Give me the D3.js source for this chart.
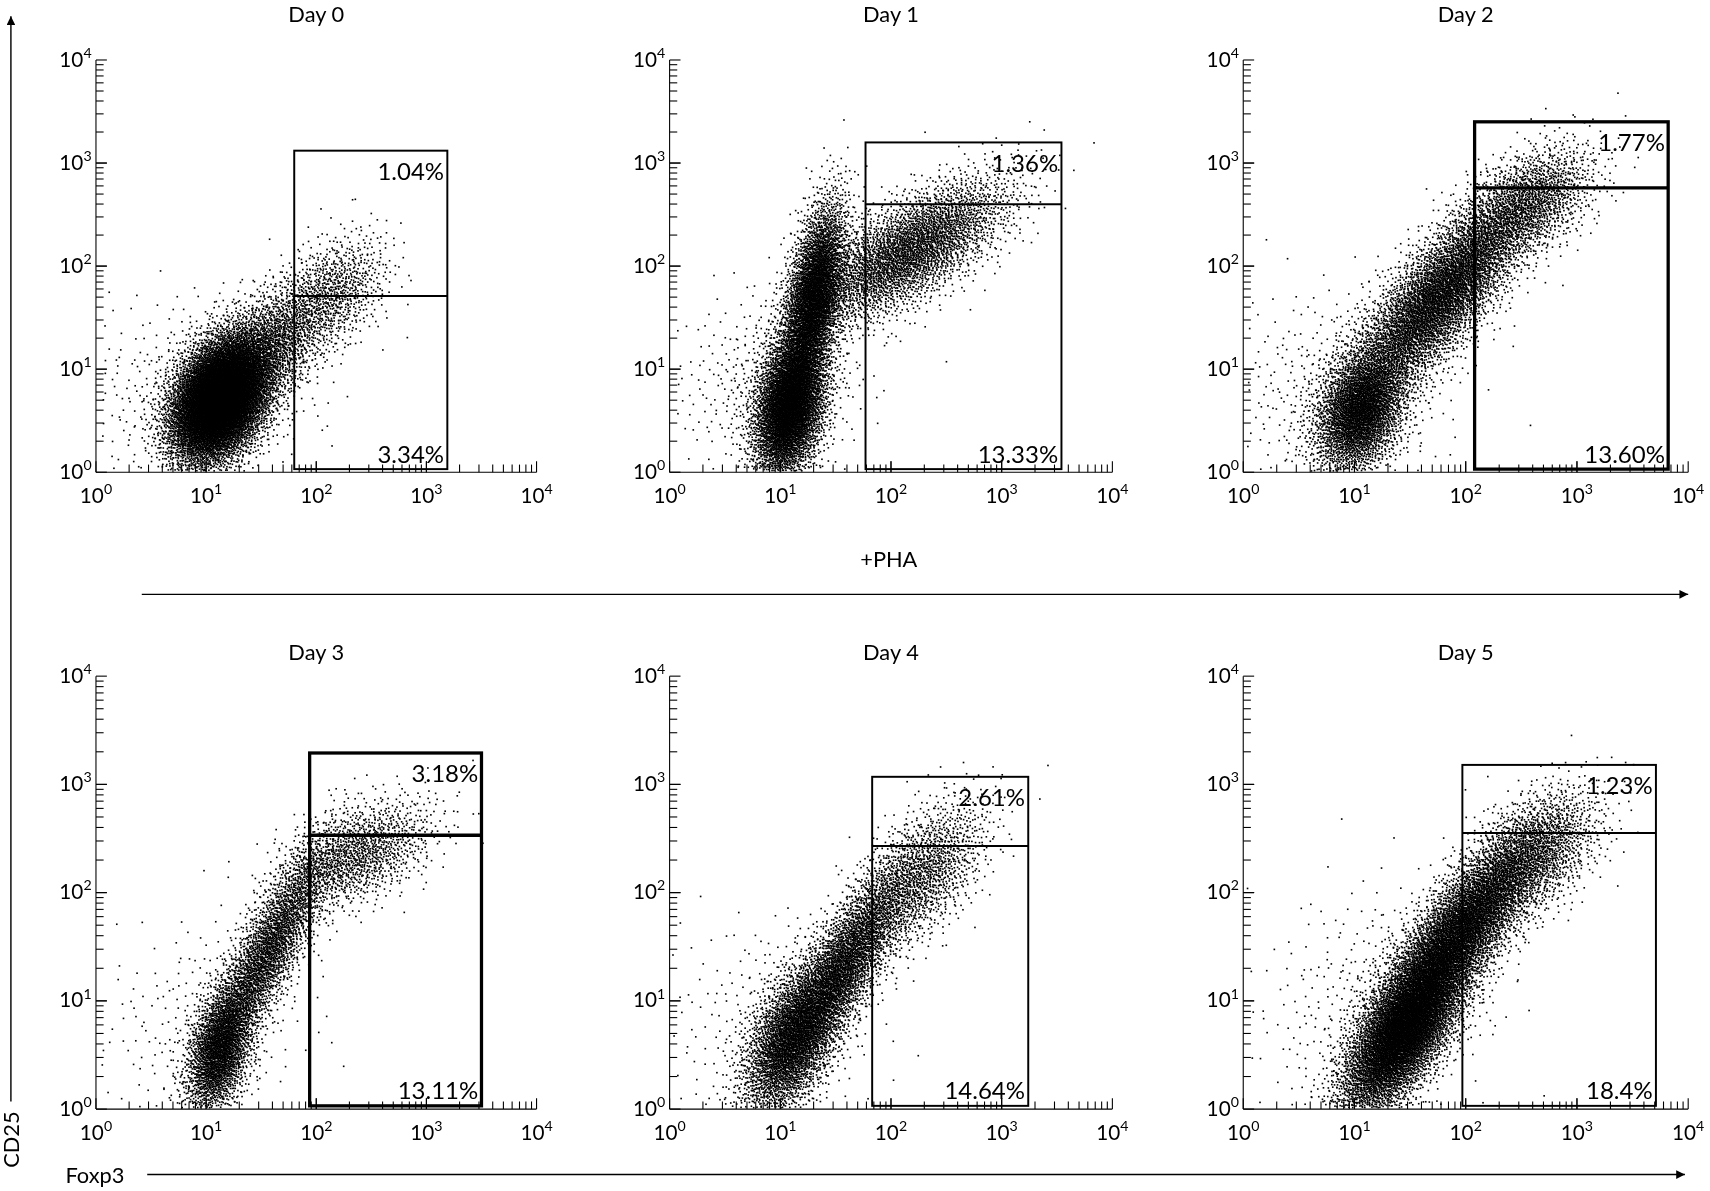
<!DOCTYPE html>
<html><head><meta charset="utf-8">
<script src="https://cdn.jsdelivr.net/npm/d3@7"></script>
<style>body{margin:0;background:#fff}#wrap{position:relative;width:1710px;height:1191px}canvas,svg{position:absolute;left:0;top:0}</style>
</head><body><div id="wrap"><canvas id="cv" width="1710" height="1191"></canvas><svg id="sv" width="1710" height="1191"></svg></div>
<script>
// ---- data (log10 units) ----
const titles = ["Day 0","Day 1","Day 2","Day 3","Day 4","Day 5"];
const tickExps = [0,1,2,3,4];
const upperPct = ["1.04%","1.36%","1.77%","3.18%","2.61%","1.23%"];
const lowerPct = ["3.34%","13.33%","13.60%","13.11%","14.64%","18.4%"];
// gate: [xLeft, xRight, yBottom, yMid, yTop]
const gates = [
 [1.80,3.19,0.03,1.71,3.12],
 [1.77,3.54,0.03,2.60,3.20],
 [2.08,3.82,0.03,2.76,3.40],
 [1.94,3.50,0.03,2.53,3.29],
 [1.83,3.24,0.03,2.43,3.07],
 [1.97,3.71,0.03,2.55,3.18]];
const gateThick = [false,false,true,true,false,false];
// population clusters: [meanX, meanY, sdX, sdY, corr, count]
const clusters = [
 [[1.12,0.72,0.22,0.30,0.35,11000],[1.55,1.20,0.30,0.35,0.6,2000],[2.15,1.75,0.25,0.28,0.4,800],[0.9,0.8,0.55,0.45,0.1,400]],
 [[1.08,0.65,0.16,0.35,0.3,5500],[1.30,1.70,0.14,0.45,0.5,4500],[2.15,2.15,0.45,0.35,0.7,3800],[0.9,0.9,0.45,0.45,0.2,400]],
 [[1.05,0.60,0.20,0.30,0.3,3500],[1.75,1.70,0.40,0.50,0.8,6000],[2.55,2.60,0.30,0.28,0.5,1600],[0.8,0.8,0.55,0.5,0.1,400]],
 [[1.12,0.55,0.15,0.30,0.4,2500],[1.55,1.45,0.28,0.50,0.85,3000],[2.35,2.35,0.35,0.25,0.5,1400],[1.0,0.8,0.5,0.5,0.2,250]],
 [[1.10,0.65,0.22,0.35,0.5,3600],[1.55,1.30,0.28,0.45,0.8,3600],[2.25,2.15,0.30,0.35,0.6,1600],[0.9,0.8,0.5,0.5,0.1,250]],
 [[1.45,0.75,0.28,0.40,0.7,8000],[1.95,1.65,0.35,0.45,0.8,6000],[2.60,2.35,0.30,0.30,0.5,1700],[1.2,1.0,0.55,0.55,0.2,400]]];

// ---- layout (designed on a 1568-wide grid, scaled to 1710) ----
const S = 1710/1568;
const panelX = [[88,492],[614,1020],[1140,1548]];
const panelY = [[433,55],[1017,620]];
const titleY = [20,605];
const cv = document.getElementById("cv").getContext("2d");
cv.scale(S,S);
const svg = d3.select("#sv").append("g").attr("transform",`scale(${S})`);
const font = "Lato, 'DejaVu Sans', sans-serif";

function halton(i,b){let f=1,r=0;while(i>0){f/=b;r+=f*(i%b);i=Math.floor(i/b);}return r;}
let seedIdx = 1;

titles.forEach((t,k)=>{
  const r = Math.floor(k/3), c = k%3;
  const x = d3.scaleLinear().domain([0,4]).range(panelX[c]);
  const y = d3.scaleLinear().domain([0,4]).range(panelY[r]);
  cv.fillStyle="#000";
  clusters[k].forEach(([mx,my,sx,sy,rho,n])=>{
    for(let i=0;i<n;i++){
      const j=seedIdx++;
      const u1=Math.max(1e-6,halton(j,2)), u2=halton(j,3);
      const rad=Math.sqrt(-2*Math.log(u1));
      const z1=rad*Math.cos(2*Math.PI*u2), z2=rad*Math.sin(2*Math.PI*u2);
      const vx=mx+sx*z1, vy=my+sy*(rho*z1+Math.sqrt(1-rho*rho)*z2);
      if(vx<0.02||vx>3.98||vy<0.02||vy>3.98) continue;
      cv.fillRect(x(vx),y(vy),1.5,1.5);
    }
  });
  const g = svg.append("g");
  const minors=[];
  for(let d=0;d<4;d++) for(let m=1;m<=10;m++) minors.push({v:d+Math.log10(m),major:m===1||m===10});
  const x0=panelX[c][0], y0=panelY[r][0];
  g.append("line").attr("x1",x0).attr("x2",panelX[c][1]).attr("y1",y0).attr("y2",y0).attr("stroke","#000");
  g.append("line").attr("x1",x0).attr("x2",x0).attr("y1",y0).attr("y2",panelY[r][1]).attr("stroke","#000");
  minors.forEach(m=>{
    const L=m.major?10:7;
    g.append("line").attr("x1",x(m.v)).attr("x2",x(m.v)).attr("y1",y0).attr("y2",y0-L).attr("stroke","#000");
    g.append("line").attr("y1",y(m.v)).attr("y2",y(m.v)).attr("x1",x0).attr("x2",x0+L).attr("stroke","#000");
  });
  tickExps.forEach(e=>{
    const tx=g.append("text").attr("x",x(e)).attr("y",y0+28).attr("text-anchor","middle").attr("font-family",font).attr("font-size",19);
    tx.append("tspan").text("10");tx.append("tspan").attr("font-size",13).attr("dy",-8).text(e);
    const ty=g.append("text").attr("x",x0-4).attr("y",y(e)+6).attr("text-anchor","end").attr("font-family",font).attr("font-size",19);
    ty.append("tspan").text("10");ty.append("tspan").attr("font-size",13).attr("dy",-8).text(e);
  });
  g.append("text").attr("x",(panelX[c][0]+panelX[c][1])/2).attr("y",titleY[r]).attr("text-anchor","middle").attr("font-family",font).attr("font-size",20).text(t);
  const [gl,gr,gb,gm,gt]=gates[k]; const sw=gateThick[k]?3:1.8;
  g.append("rect").attr("x",x(gl)).attr("y",y(gt)).attr("width",x(gr)-x(gl)).attr("height",y(gb)-y(gt)).attr("fill","none").attr("stroke","#000").attr("stroke-width",sw);
  g.append("line").attr("x1",x(gl)).attr("x2",x(gr)).attr("y1",y(gm)).attr("y2",y(gm)).attr("stroke","#000").attr("stroke-width",sw);
  g.append("text").attr("x",x(gr)-3).attr("y",y(gt)+27).attr("text-anchor","end").attr("font-family",font).attr("font-size",22).text(upperPct[k]);
  g.append("text").attr("x",x(gr)-3).attr("y",y(gb)-6).attr("text-anchor","end").attr("font-family",font).attr("font-size",22).text(lowerPct[k]);
});
const defs=d3.select("#sv").append("defs");
defs.append("marker").attr("id","ah").attr("viewBox","0 0 10 10").attr("refX",10).attr("refY",5).attr("markerWidth",10).attr("markerHeight",8).attr("orient","auto").attr("markerUnits","userSpaceOnUse")
  .append("path").attr("d","M0,0L10,5L0,10z").attr("fill","#000");
svg.append("line").attr("x1",10).attr("y1",1010).attr("x2",10).attr("y2",15).attr("stroke","#000").attr("stroke-width",1.3).attr("marker-end","url(#ah)");
svg.append("line").attr("x1",130).attr("y1",545).attr("x2",1548).attr("y2",545).attr("stroke","#000").attr("stroke-width",1.3).attr("marker-end","url(#ah)");
svg.append("line").attr("x1",135).attr("y1",1077).attr("x2",1545).attr("y2",1077).attr("stroke","#000").attr("stroke-width",1.3).attr("marker-end","url(#ah)");
svg.append("text").attr("transform","translate(17,1045) rotate(-90)").attr("text-anchor","middle").attr("font-family",font).attr("font-size",20).text("CD25");
svg.append("text").attr("x",60).attr("y",1085).attr("font-family",font).attr("font-size",20).text("Foxp3");
svg.append("text").attr("x",815).attr("y",520).attr("text-anchor","middle").attr("font-family",font).attr("font-size",20).text("+PHA");
</script></body></html>
